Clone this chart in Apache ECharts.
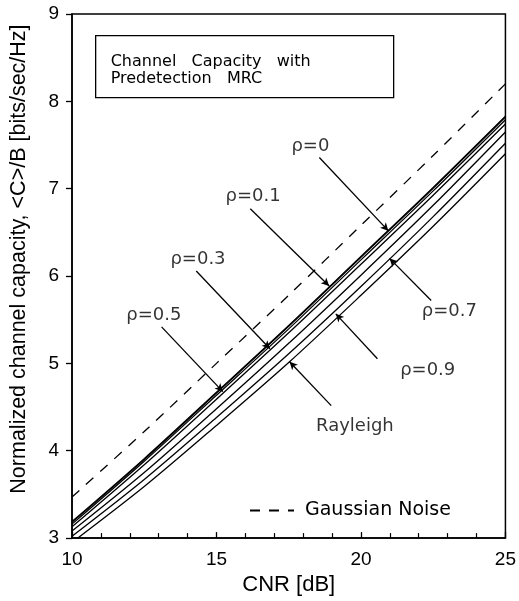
<!DOCTYPE html>
<html>
<head>
<meta charset="utf-8">
<script src="https://cdn.jsdelivr.net/npm/echarts@6/dist/echarts.min.js"></script>
<style>
html,body{margin:0;padding:0;background:#fff;}
#chart{width:519px;height:601px;}
</style>
</head>
<body>
<div id="chart"></div>
<script>
// ---- data ----
const cnr = [10, 12.5, 15, 17.5, 20, 22.5, 25];
const gaussian = [3.47, 4.22, 5.00, 5.78, 6.58, 7.38, 8.20];
const rho0 = [3.19, 3.91, 4.67, 5.435, 6.225, 7.015, 7.83];
const rho01 = [3.18, 3.90, 4.66, 5.425, 6.215, 7.005, 7.82];
const rho03 = [3.16, 3.88, 4.635, 5.395, 6.185, 6.975, 7.79];
const rho05 = [3.13, 3.84, 4.59, 5.35, 6.135, 6.925, 7.74];
const rho07 = [3.08, 3.75, 4.48, 5.23, 6.01, 6.81, 7.65];
const rho09 = [3.02, 3.67, 4.38, 5.11, 5.88, 6.68, 7.52];
const rayleigh = [2.95, 3.59, 4.29, 5.01, 5.78, 6.57, 7.40];

const fadingNames = ['ρ=0', 'ρ=0.1', 'ρ=0.3', 'ρ=0.5', 'ρ=0.7', 'ρ=0.9', 'Rayleigh'];
const fadingValues = [rho0, rho01, rho03, rho05, rho07, rho09, rayleigh];

// annotation labels and arrows (data units)
const annLabels = ['ρ=0', 'ρ=0.1', 'ρ=0.3', 'ρ=0.5', 'ρ=0.7', 'ρ=0.9', 'Rayleigh'];
const annLabelPos = [[18.25, 7.48], [16.27, 6.91], [14.36, 6.19], [12.83, 5.555], [23.06, 5.60], [22.31, 4.92], [19.79, 4.28]];
const arrowFrom = [[18.56, 7.357], [16.17, 6.77], [14.30, 6.057], [13.10, 5.418], [22.43, 5.72], [20.57, 5.053], [18.97, 4.517]];
const arrowTo = [[20.95, 6.517], [18.90, 5.886], [16.85, 5.167], [15.22, 4.677], [20.99, 6.202], [19.13, 5.567], [17.53, 5.019]];

const xTicks = {min: 10, max: 25, interval: 5};
const yTicks = {min: 3, max: 9, interval: 1};

const titleLines = ['Channel   Capacity   with', 'Predetection   MRC'];

// ---- build ----
const pairs = (ys) => cnr.map((x, i) => [x, ys[i]]);
const axisFont = 'Liberation Sans, Arial, sans-serif';
const annFont = 'DejaVu Sans, sans-serif';

const series = [];
fadingValues.forEach((vals, i) => {
  series.push({
    name: fadingNames[i], type: 'line', data: pairs(vals),
    smooth: 0.3, symbol: 'none', silent: true,
    lineStyle: {color: '#000', width: 1.3},
    emphasis: {disabled: true}
  });
});
series.push({
  name: 'Gaussian Noise', type: 'line', data: pairs(gaussian),
  smooth: 0.3, symbol: 'none', silent: true,
  lineStyle: {color: '#000', width: 1.3, type: [10, 9]},
  itemStyle: {color: '#000'},
  emphasis: {disabled: true}
});
// annotation arrows + labels
series.push({
  name: 'annotations', type: 'scatter', silent: true,
  symbolSize: 0,
  data: annLabels.map((t, i) => ({name: t, value: annLabelPos[i]})),
  label: {
    show: true, position: 'inside', formatter: '{b}',
    color: '#000', fontFamily: annFont, fontSize: 18,
    textBorderWidth: 0
  },
  markLine: {
    silent: true, animation: false,
    symbol: ['none', 'arrow'], symbolSize: [6, 8],
    lineStyle: {color: '#000', width: 1.3, type: 'solid'},
    label: {show: false},
    data: arrowFrom.map((p, i) => [{coord: p}, {coord: arrowTo[i]}])
  }
});

const chart = echarts.init(document.getElementById('chart'), null, {renderer: 'canvas'});
chart.setOption({
  animation: false,
  backgroundColor: '#fff',
  grid: {left: 67, right: 11, top: 14, bottom: 61, show: true, borderColor: '#000', borderWidth: 1.5, backgroundColor: 'transparent'},
  legend: {
    data: [{name: 'Gaussian Noise', itemStyle: {color: 'rgba(0,0,0,0)', borderWidth: 0}}],
    left: 244, top: 496,
    itemWidth: 44, itemHeight: 12, selectedMode: false,
    textStyle: {color: '#000', fontFamily: annFont, fontSize: 19, padding: [0, 0, 0, 6]}
  },
  xAxis: {
    type: 'value', min: xTicks.min, max: xTicks.max, interval: xTicks.interval,
    name: 'CNR [dB]', nameLocation: 'middle', nameGap: 31,
    nameTextStyle: {color: '#000', fontFamily: axisFont, fontSize: 22},
    axisLine: {lineStyle: {color: '#000', width: 1.5}},
    axisTick: {inside: true, length: 6, lineStyle: {color: '#000', width: 1.3}},
    minorTick: {show: true, splitNumber: 5, length: 5, lineStyle: {color: '#000', width: 1.2}},
    axisLabel: {color: '#000', fontFamily: axisFont, fontSize: 19, margin: 12},
    splitLine: {show: false}
  },
  yAxis: {
    type: 'value', min: yTicks.min, max: yTicks.max, interval: yTicks.interval,
    name: 'Normalized channel capacity, <C>/B [bits/sec/Hz]', nameLocation: 'middle', nameGap: 42,
    nameTextStyle: {color: '#000', fontFamily: axisFont, fontSize: 21.5, padding: [0, 0, 0, 34]},
    axisLine: {lineStyle: {color: '#000', width: 1.5}},
    axisTick: {inside: false, length: 6, lineStyle: {color: '#000', width: 1.3}},
    axisLabel: {color: '#000', fontFamily: axisFont, fontSize: 19, margin: 13},
    splitLine: {show: false}
  },
  graphic: [{
    type: 'group', left: 95, top: 35,
    children: [
      {type: 'rect', shape: {x: 0, y: 0, width: 298, height: 62}, style: {fill: '#fff', stroke: '#000', lineWidth: 1.3}},
      {type: 'text', left: 15, top: 18, style: {text: titleLines.join('\n'), fill: '#000', font: '16px DejaVu Sans', lineHeight: 17}}
    ]
  }],
  series: series
});
</script>
</body>
</html>
